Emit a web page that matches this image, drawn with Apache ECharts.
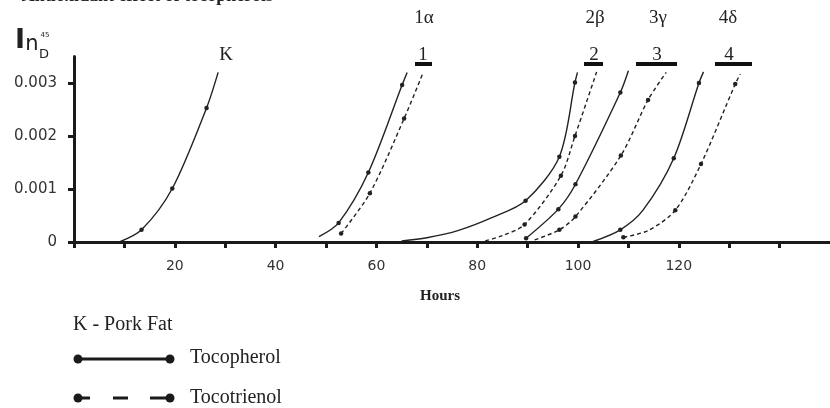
<!DOCTYPE html>
<html>
<head>
<meta charset="utf-8">
<script src="https://cdn.jsdelivr.net/npm/echarts@6/dist/echarts.min.js"></script>
<style>
  html, body { margin: 0; padding: 0; background: #fff; }
  #chart { width: 830px; height: 408px; }
</style>
</head>
<body>
<div id="chart"></div>
<script>
// Induction curves: [hours, In_D^45 value, 1 = measured point]
const curveK = [[9, 0, 0], [13.4, 0.00023, 1], [19.5, 0.00101, 1], [26.3, 0.00253, 1], [28.6, 0.0032, 0]];

const curve1Tocopherol = [[48.6, 0.0001, 0], [52.5, 0.00036, 1], [58.4, 0.00131, 1], [65.1, 0.00296, 1], [66.1, 0.0032, 0]];
const curve1Tocotrienol = [[53, 0.00016, 1], [58.7, 0.00092, 1], [65.5, 0.00233, 1], [69.2, 0.00318, 0]];

const curve2Tocopherol = [[65, 0.00002, 0], [70, 0.00008, 0], [76.3, 0.00022, 0], [82.9, 0.00046, 0], [89.6, 0.00078, 1], [96.3, 0.00161, 1], [99.4, 0.00301, 1], [99.9, 0.0032, 0]];
const curve2Tocotrienol = [[81.6, 0.00002, 0], [85, 0.00012, 0], [89.4, 0.00033, 1], [96.6, 0.00125, 1], [99.4, 0.002, 1], [103.7, 0.00321, 0]];

const curve3Tocopherol = [[89.7, 0.00007, 1], [96.1, 0.00062, 1], [99.5, 0.00109, 1], [108.4, 0.00282, 1], [110, 0.00323, 0]];
const curve3Tocotrienol = [[91.4, 0.00004, 0], [96.3, 0.00023, 1], [99.5, 0.00048, 1], [108.5, 0.00163, 1], [113.9, 0.00268, 1], [117.5, 0.0032, 0]];

const curve4Tocopherol = [[103, 0.00001, 0], [108.4, 0.00023, 1], [112.9, 0.0006, 0], [119, 0.00158, 1], [124, 0.003, 1], [124.9, 0.00321, 0]];
const curve4Tocotrienol = [[109, 0.00009, 1], [114, 0.00022, 0], [119.3, 0.0006, 1], [124.4, 0.00147, 1], [131.2, 0.00298, 1], [132.2, 0.00317, 0]];

// Axis ticks and labels
const xTicks = [0, 10, 20, 30, 40, 50, 60, 70, 80, 90, 100, 110, 120, 130, 140];
const xLabels = [20, 40, 60, 80, 100, 120];
const yTicks = [0, 0.001, 0.002, 0.003];

const curves = [
  { name: 'K', data: curveK, dashed: false },
  { name: '1 Tocopherol', data: curve1Tocopherol, dashed: false },
  { name: '1 Tocotrienol', data: curve1Tocotrienol, dashed: true },
  { name: '2 Tocopherol', data: curve2Tocopherol, dashed: false },
  { name: '2 Tocotrienol', data: curve2Tocotrienol, dashed: true },
  { name: '3 Tocopherol', data: curve3Tocopherol, dashed: false },
  { name: '3 Tocotrienol', data: curve3Tocotrienol, dashed: true },
  { name: '4 Tocopherol', data: curve4Tocopherol, dashed: false },
  { name: '4 Tocotrienol', data: curve4Tocotrienol, dashed: true }
];

const INK = '#222';
const SERIF = '"Liberation Serif", "DejaVu Serif", serif';
const SANS = '"DejaVu Sans", sans-serif';

const series = curves.map(c => ({
  name: c.name,
  type: 'line',
  smooth: 0.3,
  clip: false,
  symbol: 'circle',
  symbolSize: 4.5,
  itemStyle: { color: INK },
  lineStyle: { color: INK, width: 1.4, type: c.dashed ? [4, 3] : 'solid' },
  data: c.data.map(p => ({
    value: [p[0], p[1]],
    symbol: p[2] ? 'circle' : 'none'
  })),
  silent: true,
  animation: false
}));

function txt(text, x, y, opts) {
  return {
    type: 'text',
    x: x, y: y,
    silent: true,
    style: Object.assign({
      text: text,
      fill: '#222',
      font: '19px ' + SERIF,
      align: 'center',
      verticalAlign: 'middle'
    }, opts || {})
  };
}
function bar(x1, x2, y) {
  return { type: 'rect', silent: true, shape: { x: x1, y: y - 2, width: x2 - x1, height: 4 }, style: { fill: '#111' } };
}
function seg(x1, x2, y) {
  return { type: 'line', silent: true, shape: { x1: x1, y1: y, x2: x2, y2: y }, style: { stroke: '#1a1a1a', lineWidth: 3 } };
}
function dot(x, y) {
  return { type: 'circle', silent: true, shape: { cx: x, cy: y, r: 4.5 }, style: { fill: '#1a1a1a' } };
}

const KEY_FONT = '20px ' + SERIF;

const graphics = [
  // heading, mostly above the page edge
  txt('Antioxidant effect of tocopherols', 273, 5, { font: 'bold 18px ' + SERIF, align: 'right', verticalAlign: 'bottom' }),
  // y-axis quantity In_D^45
  txt('I', 20, 41, { font: 'bold 27px ' + SANS, align: 'center' }),
  txt('n', 32, 45, { font: '21px ' + SANS, align: 'center' }),
  txt('D', 44, 55, { font: '13px ' + SANS, align: 'center' }),
  txt('45', 45, 35, { font: '7px ' + SANS, align: 'center' }),
  // curve labels
  txt('K', 226, 55),
  txt('1\u03b1', 424, 18),
  txt('2\u03b2', 595, 18),
  txt('3\u03b3', 658, 18),
  txt('4\u03b4', 728, 18),
  txt('1', 423, 55),
  txt('2', 594, 55),
  txt('3', 657, 55),
  txt('4', 729, 55),
  bar(415, 432, 64),
  bar(584, 603, 64),
  bar(636, 677, 64),
  bar(715, 752, 64),
  // x-axis title
  txt('Hours', 440, 296, { font: 'bold 15px ' + SERIF }),
  // key
  txt('K - Pork Fat', 73, 325, { align: 'left', font: KEY_FONT }),
  seg(78, 170, 359), dot(78, 359), dot(170, 359),
  txt('Tocopherol', 190, 358, { align: 'left', font: KEY_FONT }),
  seg(78, 90, 398), seg(113, 128, 398), seg(150, 170, 398), dot(78, 398), dot(170, 398),
  txt('Tocotrienol', 190, 398, { align: 'left', font: KEY_FONT })
];

const chart = echarts.init(document.getElementById('chart'), null, { renderer: 'canvas' });
chart.setOption({
  animation: false,
  backgroundColor: '#fff',
  grid: { left: 74, top: 56.5, right: -9, bottom: 166, containLabel: false },
  xAxis: {
    type: 'value',
    min: 0, max: 150,
    splitLine: { show: false },
    axisLine: { show: true, onZero: false, lineStyle: { color: '#1a1a1a', width: 3 } },
    axisTick: { show: true, customValues: xTicks, length: 6, lineStyle: { color: '#1a1a1a', width: 3 } },
    axisLabel: { customValues: xLabels, margin: 17, color: '#333', fontSize: 14, fontFamily: SANS }
  },
  yAxis: {
    type: 'value',
    min: 0, max: 0.0035,
    splitLine: { show: false },
    axisLine: { show: true, lineStyle: { color: '#1a1a1a', width: 3 } },
    axisTick: { show: true, customValues: yTicks, length: 6, lineStyle: { color: '#1a1a1a', width: 3 } },
    axisLabel: { customValues: yTicks, margin: 17, color: '#333', fontSize: 15, fontFamily: SANS }
  },
  series: series,
  graphic: graphics
});
</script>
</body>
</html>
